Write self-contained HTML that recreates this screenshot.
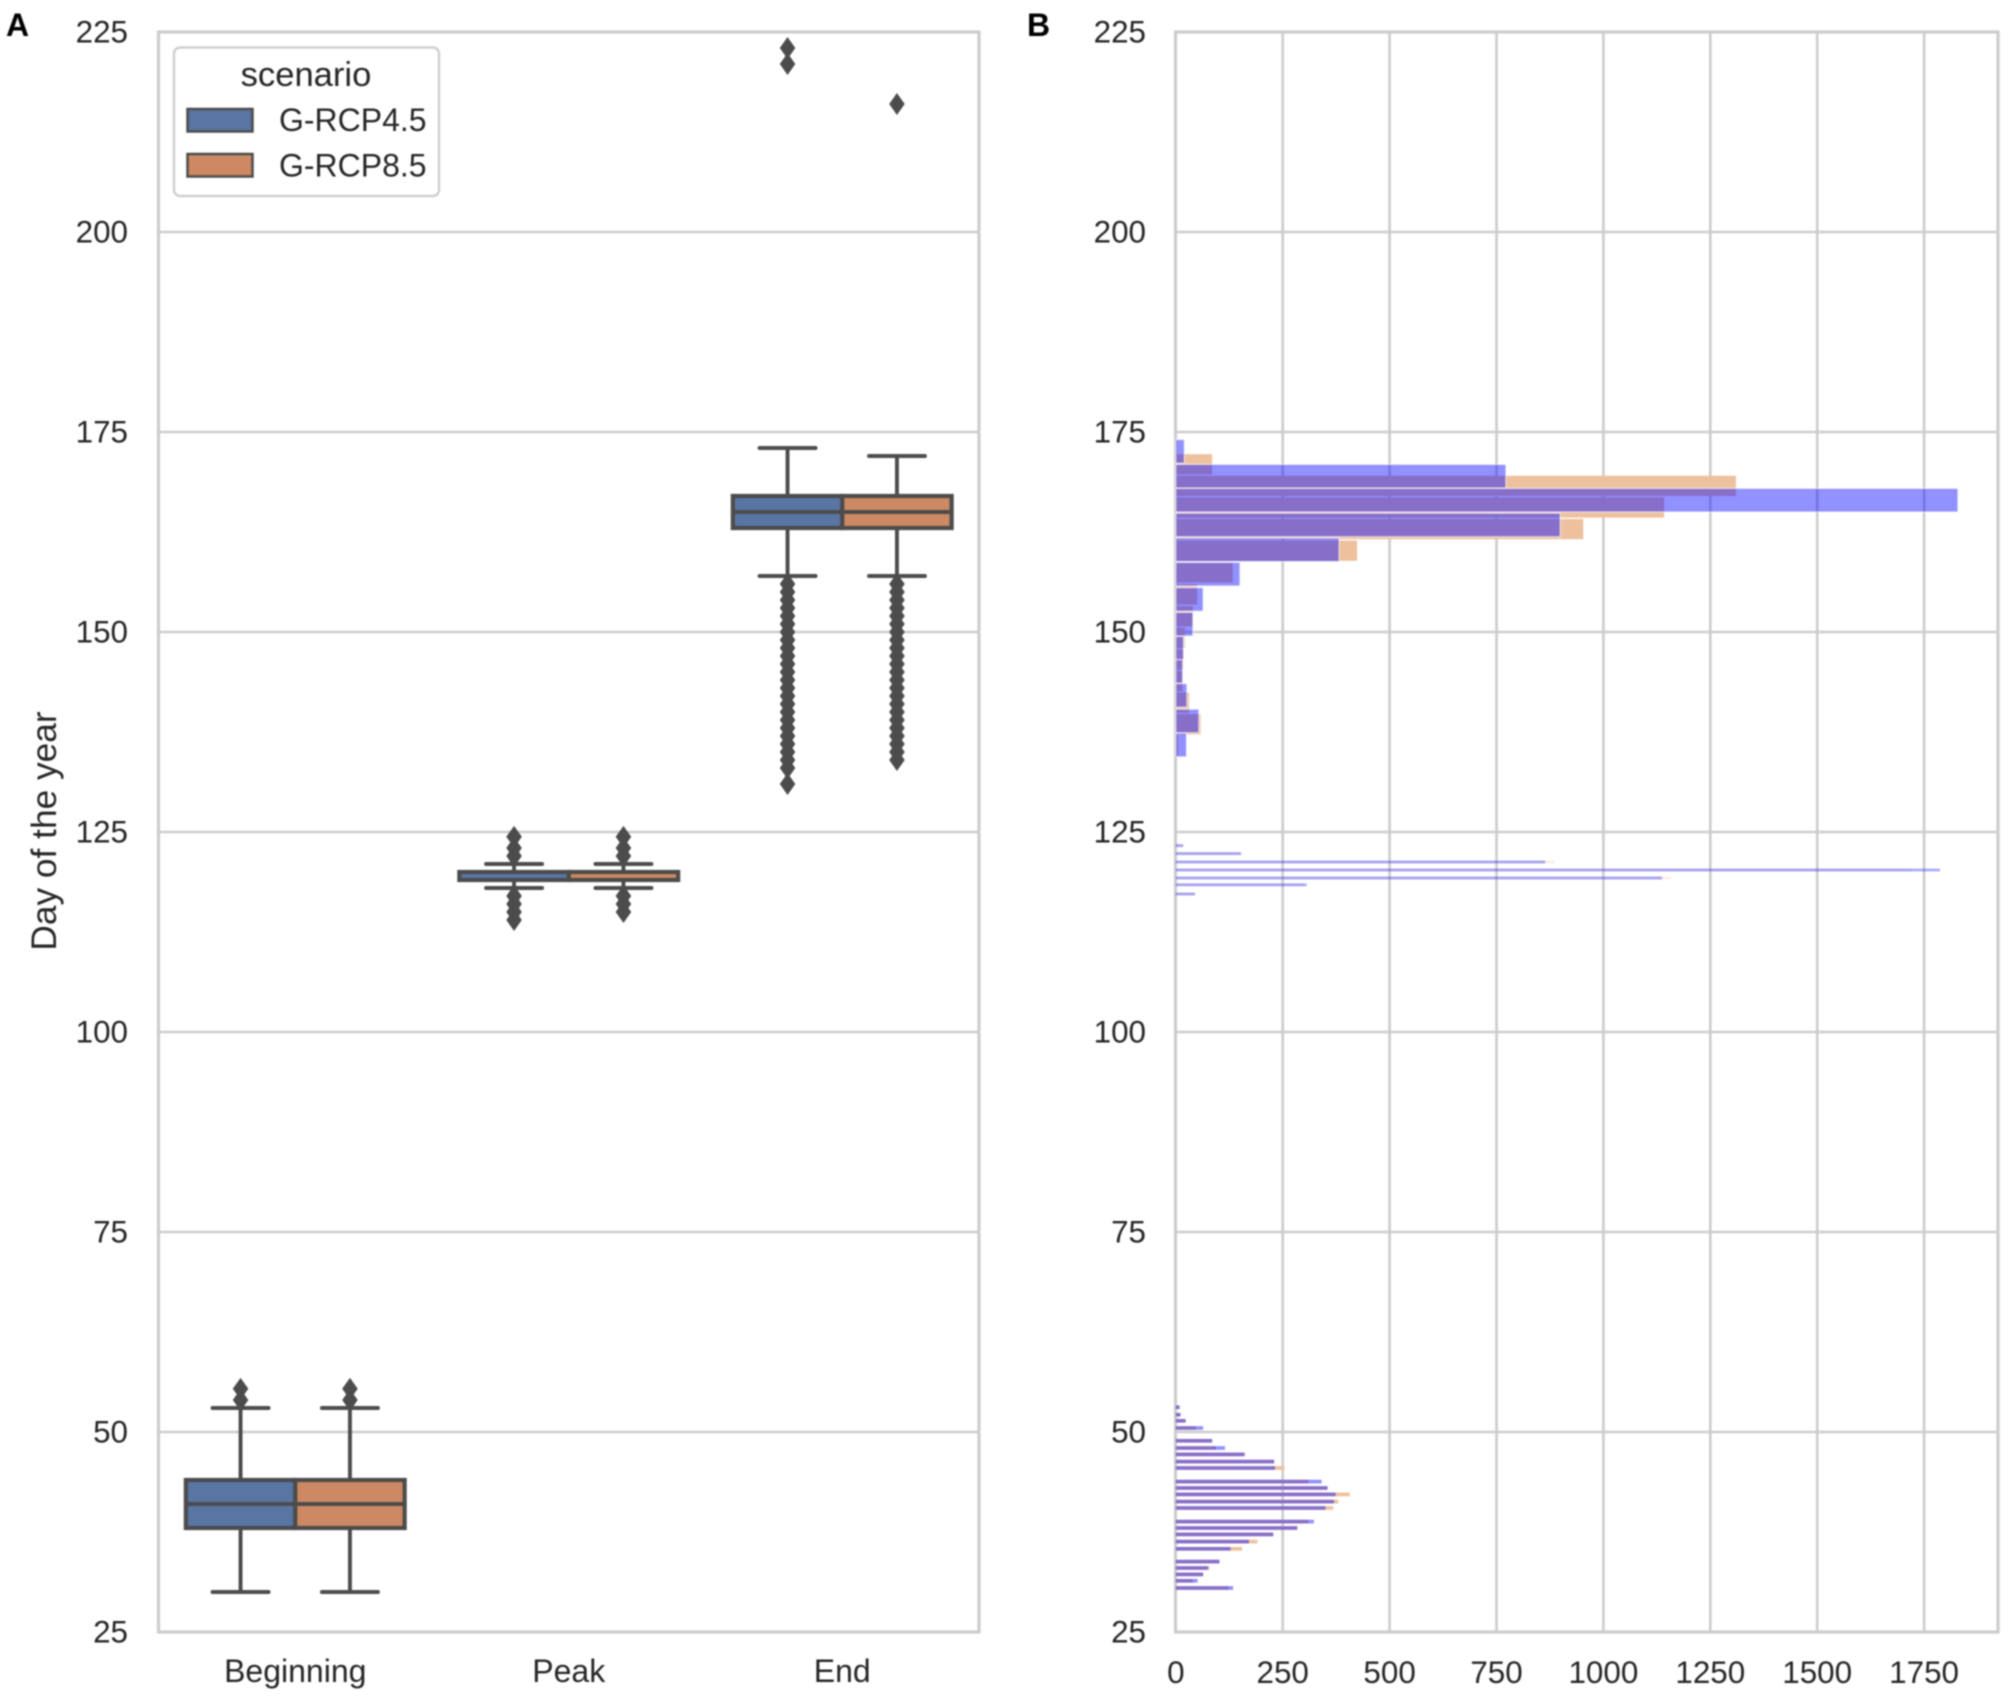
<!DOCTYPE html>
<html lang="en">
<head>
<meta charset="utf-8">
<title>Day of the year boxplot and histogram</title>
<style>
html,body{margin:0;padding:0;background:#fff;}
svg{display:block;filter:blur(0.7px);}
text{font-family:"Liberation Sans",sans-serif;fill:#262626;}
</style>
</head>
<body>
<svg id="chart" xmlns="http://www.w3.org/2000/svg" width="2008" height="1696" viewBox="0 0 2008 1696">
  <rect x="0" y="0" width="2008" height="1696" fill="#ffffff"/>
  <text x="6" y="36" font-size="32" font-weight="bold" style="fill:#000">A</text>
  <text x="1027" y="36" font-size="32" font-weight="bold" style="fill:#000">B</text>
  <g id="panelA"></g>
  <g id="panelB"></g>
  <text transform="translate(56,831) rotate(-90)" text-anchor="middle" font-size="35.3">Day of the year</text>
  <g>
    <rect x="174" y="47.5" width="265" height="148.5" rx="6" fill="#fff" stroke="#cfcfcf" stroke-width="2.5"/>
    <text x="306" y="86" text-anchor="middle" font-size="34.6">scenario</text>
    <rect x="187.5" y="109" width="65" height="22.5" fill="#5975a4" stroke="#4c4c4c" stroke-width="2.5"/>
    <text x="279" y="131" font-size="32">G-RCP4.5</text>
    <rect x="187.5" y="154" width="65" height="22.5" fill="#cc8963" stroke="#4c4c4c" stroke-width="2.5"/>
    <text x="279" y="176.5" font-size="32">G-RCP8.5</text>
  </g>
</svg>
<script>
// ---- shared axis data ----
const yTicks = [25, 50, 75, 100, 125, 150, 175, 200, 225];
const xCountTicks = [0, 250, 500, 750, 1000, 1250, 1500, 1750];
const categories = ['Beginning', 'Peak', 'End'];
const scenarios = ['G-RCP4.5', 'G-RCP8.5'];

// ---- boxplot data: one entry per category, values in day of year ----
const q1Rcp45 = [38, 119, 163];
const medianRcp45 = [41, 120, 165];
const q3Rcp45 = [44, 120, 167];
const whiskerLowRcp45 = [30, 118, 157];
const whiskerHighRcp45 = [53, 121, 173];
const q1Rcp85 = [38, 119, 163];
const medianRcp85 = [41, 120, 165];
const q3Rcp85 = [44, 120, 167];
const whiskerLowRcp85 = [30, 118, 157];
const whiskerHighRcp85 = [53, 121, 172];
const fliersRcp45 = [
  [54, 55.4],
  [114, 115, 116, 117, 122, 123, 124.4],
  [131, 133, 134, 135, 136, 137, 138, 139, 140, 141, 142, 143, 144, 145, 146, 147, 148, 149, 150, 151, 152, 153, 154, 155, 156, 221, 223]
];
const fliersRcp85 = [
  [54, 55.4],
  [115, 116, 117, 122, 123, 124.4],
  [134, 135, 136, 137, 138, 139, 140, 141, 142, 143, 144, 145, 146, 147, 148, 149, 150, 151, 152, 153, 154, 155, 156, 216]
];

// ---- histogram data: lower bin edge or bin centre in days, and counts ----
const endDaysBlue = [171.1, 168.0, 165.0, 161.9, 158.8, 155.75, 152.6, 149.5, 146.5, 143.6, 140.6, 137.4, 134.4];
const endCountsBlue = [20, 772, 1829, 899, 382, 150, 64, 40, 18, 16, 26, 54, 25];
const endDaysOrange = [169.7, 167.0, 164.3, 161.6, 158.9, 156.2, 153.45, 150.7, 148.0, 145.3, 142.6, 139.9, 137.2, 134.5];
const endCountsOrange = [85, 1310, 1142, 953, 424, 133, 50, 40, 21, 18, 16, 31, 58, 5];
const peakDays = [123.3, 122.3, 121.25, 120.25, 119.25, 118.4, 117.25];
const peakCountsBlue = [17, 153, 864, 1787, 1137, 306, 45];
const peakCountsOrange = [20, 150, 887, 1722, 1158, 300, 45];
const beginDays = [53.09, 52.16, 51.4, 50.5, 48.9, 48.0, 47.2, 46.3, 45.5, 43.8, 43.0, 42.2, 41.3, 40.5, 38.8, 38.0, 37.2, 36.3, 35.4, 33.8, 33.0, 32.2, 31.4, 30.5];
const beginCountsBlue = [8, 11, 23, 64, 85, 115, 161, 230, 232, 341, 355, 374, 370, 350, 323, 284, 228, 171, 128, 102, 75, 64, 51, 134];
const beginCountsOrange = [10, 11, 23, 47, 85, 94, 161, 230, 254, 310, 355, 407, 380, 368, 310, 284, 228, 191, 155, 102, 79, 64, 40, 124];

// ---- scales ----
const NS = 'http://www.w3.org/2000/svg';
const plotTop = 32, plotBottom = 1632;
const leftA = 158.5, rightA = 979, leftB = 1175.5, rightB = 1998;
const yScale = d => plotBottom - (d - 25) * 8;
const xCount = c => 1175.8 + c * 0.4276;
const catCenter = i => leftA + (rightA - leftA) * (i + 0.5) / categories.length;
const boxWidth = (rightA - leftA) / categories.length * 0.8 / 2;
const hueCenter = (i, h) => catCenter(i) + (h - 0.5) * boxWidth;

function mk(parent, tag, attrs, text) {
  const el = document.createElementNS(NS, tag);
  for (const k in attrs) el.setAttribute(k, attrs[k]);
  if (text !== undefined) el.textContent = text;
  parent.appendChild(el);
  return el;
}
const GRID = '#cccccc', LINE = '#4c4c4c';
const panelA = document.getElementById('panelA');
const panelB = document.getElementById('panelB');

// ---- panel A grid and tick labels ----
yTicks.forEach(t => {
  if (t !== 25 && t !== 225) {
    const g = mk(panelA, 'line', {x1: leftA, x2: rightA, y1: yScale(t), y2: yScale(t), stroke: GRID, 'stroke-width': 2.6});
    
    
  }
  const l = mk(panelA, 'text', {x: 128, y: yScale(t) + 10.5, 'text-anchor': 'end', 'font-size': 31.4}, String(t));
  
  
});
const frameA = mk(panelA, 'rect', {x: leftA, y: plotTop, width: rightA - leftA, height: plotBottom - plotTop, fill: 'none', stroke: GRID, 'stroke-width': 3.2});


categories.forEach((c, i) => {
  const l = mk(panelA, 'text', {x: catCenter(i), y: 1682, 'text-anchor': 'middle', 'font-size': 32}, c);
  
  
});

// ---- panel A boxes ----
function drawBoxes(h, fill, q1, med, q3, wl, wh, fl) {
  categories.forEach((c, i) => {
    const cx = hueCenter(i, h);
    const left = cx - boxWidth / 2, right = cx + boxWidth / 2, capHalf = 28;
    fl[i].forEach(v => {
      const y = yScale(v);
      const d = mk(panelA, 'polygon', {points: `${cx},${y - 9.6} ${cx + 6.8},${y} ${cx},${y + 9.6} ${cx - 6.8},${y}`, fill: LINE, stroke: LINE, 'stroke-width': 1.6});
      
      
    });
    [[wl[i], q1[i]], [wh[i], q3[i]]].forEach(p => {
      const w = mk(panelA, 'line', {x1: cx, x2: cx, y1: yScale(p[0]), y2: yScale(p[1]), stroke: LINE, 'stroke-width': 3.9});
      
      
      const cap = mk(panelA, 'line', {x1: cx - capHalf, x2: cx + capHalf, y1: yScale(p[0]), y2: yScale(p[0]), stroke: LINE, 'stroke-width': 3.9, 'stroke-linecap': 'round'});
      
      
    });
    const b = mk(panelA, 'rect', {x: left, y: yScale(q3[i]), width: boxWidth, height: yScale(q1[i]) - yScale(q3[i]), fill: fill, stroke: LINE, 'stroke-width': 4.2});
    
    
    const m = mk(panelA, 'line', {x1: left, x2: right, y1: yScale(med[i]), y2: yScale(med[i]), stroke: LINE, 'stroke-width': 4});
    
    
  });
}
drawBoxes(0, '#5975a4', q1Rcp45, medianRcp45, q3Rcp45, whiskerLowRcp45, whiskerHighRcp45, fliersRcp45);
drawBoxes(1, '#cc8963', q1Rcp85, medianRcp85, q3Rcp85, whiskerLowRcp85, whiskerHighRcp85, fliersRcp85);

// ---- panel B grid and labels ----
yTicks.forEach(t => {
  if (t !== 25 && t !== 225) {
    const g = mk(panelB, 'line', {x1: leftB, x2: rightB, y1: yScale(t), y2: yScale(t), stroke: GRID, 'stroke-width': 2.6});
    
    
  }
  const l = mk(panelB, 'text', {x: 1146, y: yScale(t) + 10.5, 'text-anchor': 'end', 'font-size': 31.4}, String(t));
  
  
});
xCountTicks.forEach(t => {
  if (t !== 0) {
    const g = mk(panelB, 'line', {x1: xCount(t), x2: xCount(t), y1: plotTop, y2: plotBottom, stroke: GRID, 'stroke-width': 2.6});
    
    
  }
  const l = mk(panelB, 'text', {x: xCount(t), y: 1683, 'text-anchor': 'middle', 'font-size': 31.4}, String(t));
  
  
});
const frameB = mk(panelB, 'rect', {x: leftB, y: plotTop, width: rightB - leftB, height: plotBottom - plotTop, fill: 'none', stroke: GRID, 'stroke-width': 3.2});



// ---- panel B bars ----
const ORANGE = 'rgb(238,193,158)', BLUE = 'rgba(0,0,255,0.43)', HALO = 'rgba(255,255,255,0.65)';
function lowerEdgeBars(days, counts, span, color, name, edge) {
  days.forEach((d, i) => {
    const top = yScale(d + span);
    const r = mk(panelB, 'rect', {x: xCount(0), y: top, width: xCount(counts[i]) - xCount(0), height: yScale(d) - top, fill: color, stroke: edge, 'stroke-width': 1.2});
    
    
  });
}
function centredBars(days, counts, span, color, name, opacity) {
  days.forEach((d, i) => {
    const top = yScale(d + span / 2);
    const r = mk(panelB, 'rect', {x: xCount(0), y: top, width: xCount(counts[i]) - xCount(0), height: yScale(d - span / 2) - top, fill: color, opacity: opacity});
    
    
  });
}
centredBars(beginDays, beginCountsOrange, 0.46, ORANGE, 'beginning-bar-rcp85', 1);
centredBars(peakDays, peakCountsOrange, 0.35, ORANGE, 'peak-bar-rcp85', 0.25);
lowerEdgeBars(endDaysOrange, endCountsOrange, 2.53, ORANGE, 'end-bar-rcp85', 'none');
centredBars(beginDays, beginCountsBlue, 0.46, BLUE, 'beginning-bar-rcp45', 1);
centredBars(peakDays, peakCountsBlue, 0.35, BLUE, 'peak-bar-rcp45', 0.75);
lowerEdgeBars(endDaysBlue, endCountsBlue, 2.95, BLUE, 'end-bar-rcp45', HALO);
</script>
</body>
</html>
